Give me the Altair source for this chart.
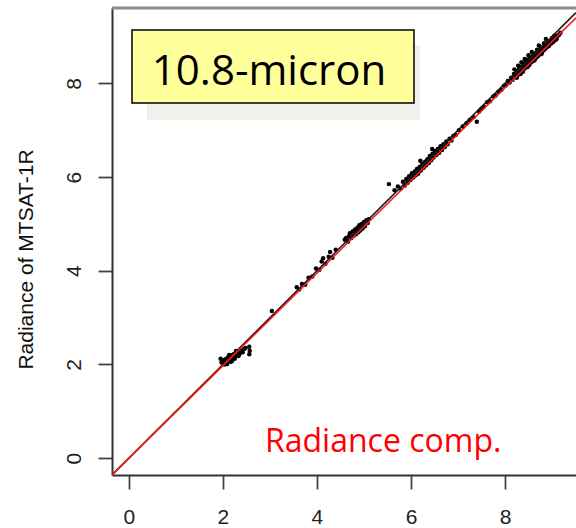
import altair as alt
import pandas as pd

# Scatter values (radiance, reference vs MTSAT-1R)
x_vals = [
    1.97, 2.00, 2.02, 2.04, 2.05, 2.07, 2.08, 2.10, 2.11, 2.12, 2.14, 2.15, 2.17, 2.18, 2.20, 2.21,
    2.23, 2.24, 2.26, 2.27, 2.29, 2.30, 2.32, 2.34, 2.35, 2.37, 2.40, 2.42, 2.45, 2.48, 2.03, 2.09,
    2.16, 2.25, 2.56, 2.57, 2.56, 1.95, 2.13, 2.19, 2.28, 2.33,
    3.04,
    3.57, 3.62, 3.68, 3.75, 3.82, 3.90, 3.98, 4.05, 4.10, 4.13, 4.18, 4.25, 4.28, 4.33, 4.40,
    4.62, 4.66, 4.70, 4.73, 4.76, 4.78, 4.81, 4.83, 4.86, 4.88, 4.90, 4.92, 4.95, 4.97, 5.00, 5.02,
    5.05, 5.08, 5.10, 4.68, 4.85, 4.94, 4.59,
    5.53,
    5.65, 5.72, 5.78, 5.83, 5.87, 5.90, 5.93, 5.96, 5.99, 6.02, 6.05, 6.08, 6.10, 6.13, 6.16, 6.19,
    6.21, 6.24, 6.27, 6.30, 6.32, 6.35, 6.38, 6.40, 6.43, 6.46, 6.48, 6.51, 6.54, 6.57, 6.60, 6.63,
    6.66, 6.69, 6.72, 6.75, 6.78, 6.82, 6.86, 6.90, 6.95, 7.02, 7.10, 7.18, 7.25, 7.33, 7.40, 7.45,
    7.50, 6.20, 6.45, 6.00, 6.25, 6.55, 6.15, 6.35, 6.65,
    7.55, 7.62, 7.68, 7.75, 7.80, 7.86, 7.92, 7.98, 8.02, 8.06, 8.10, 8.13, 8.16, 8.19, 8.22, 8.25,
    8.27, 8.30, 8.32, 8.35, 8.37, 8.40, 8.42, 8.44, 8.46, 8.48, 8.50, 8.52, 8.54, 8.56, 8.58, 8.60,
    8.62, 8.64, 8.66, 8.68, 8.70, 8.72, 8.74, 8.76, 8.78, 8.80, 8.82, 8.84, 8.86, 8.88, 8.90, 8.92,
    8.94, 8.96, 8.98, 9.00, 9.02, 9.04, 9.06, 9.08, 9.10, 9.12, 9.15, 9.18, 8.20, 8.35, 8.50, 8.45,
    8.55, 8.65, 8.75, 8.85, 8.95, 8.30, 8.40, 8.60, 8.70, 8.80, 8.90, 9.00, 9.05,
    8.25, 8.38, 8.52, 8.63, 8.78, 8.92, 8.47, 8.68, 8.83,
    8.28, 8.42, 8.57, 8.72, 8.87, 8.33, 8.48, 8.62, 8.77, 8.93, 9.08,
]
y_vals = [
    2.04, 2.08, 2.02, 2.10, 2.06, 2.12, 2.04, 2.09, 2.15, 2.07, 2.12, 2.18, 2.10, 2.15, 2.20, 2.13,
    2.18, 2.23, 2.16, 2.21, 2.25, 2.19, 2.24, 2.28, 2.22, 2.27, 2.30, 2.26, 2.33, 2.35, 2.00, 2.01,
    2.06, 2.12, 2.38, 2.29, 2.22, 2.12, 2.20, 2.07, 2.29, 2.18,
    3.14,
    3.65, 3.60, 3.72, 3.70, 3.85, 3.88, 4.05, 4.02, 4.20, 4.27, 4.15, 4.30, 4.40, 4.28, 4.45,
    4.70, 4.62, 4.80, 4.70, 4.84, 4.75, 4.88, 4.78, 4.92, 4.82, 4.97, 4.86, 5.00, 4.90, 5.04, 4.95,
    5.08, 5.02, 5.10, 4.74, 4.85, 4.93, 4.66,
    5.85,
    5.72, 5.80, 5.75, 5.90, 5.82, 5.96, 5.88, 6.02, 5.94, 6.08, 5.99, 6.12, 6.04, 6.18, 6.10, 6.22,
    6.14, 6.28, 6.20, 6.33, 6.25, 6.38, 6.30, 6.45, 6.36, 6.50, 6.42, 6.56, 6.47, 6.60, 6.52, 6.66,
    6.58, 6.70, 6.64, 6.76, 6.70, 6.82, 6.78, 6.88, 6.90, 7.00, 7.08, 7.15, 7.22, 7.28, 7.18, 7.40,
    7.46, 6.35, 6.60, 6.00, 6.24, 6.53, 6.07, 6.30, 6.62,
    7.50, 7.60, 7.62, 7.72, 7.74, 7.82, 7.86, 7.95, 7.96, 8.05, 8.02, 8.12, 8.08, 8.20, 8.14, 8.26,
    8.18, 8.32, 8.22, 8.36, 8.27, 8.42, 8.32, 8.46, 8.36, 8.50, 8.40, 8.54, 8.44, 8.56, 8.47, 8.60,
    8.52, 8.64, 8.55, 8.68, 8.58, 8.70, 8.62, 8.74, 8.66, 8.77, 8.70, 8.80, 8.74, 8.84, 8.78, 8.87,
    8.82, 8.90, 8.85, 8.93, 8.88, 8.96, 8.92, 8.99, 8.96, 9.02, 9.04, 9.08, 8.30, 8.45, 8.60, 8.44,
    8.51, 8.61, 8.70, 8.79, 8.88, 8.27, 8.37, 8.56, 8.66, 8.74, 8.85, 8.97, 9.02,
    8.12, 8.25, 8.40, 8.50, 8.64, 8.80, 8.48, 8.72, 8.86,
    8.38, 8.52, 8.67, 8.81, 8.95, 8.20, 8.35, 8.49, 8.63, 8.80, 8.93,
]

# 1:1 line and fitted (regression) line end points
one_x = [-0.36, 9.51]
one_y = [-0.36, 9.51]
fit_x = [-0.36, 9.51]
fit_y = [-0.36, 9.40]

tick_vals = [0, 2, 4, 6, 8]
x_domain = [-0.36, 9.51]
y_domain = [-0.36, 9.61]

pts = pd.DataFrame({"x": x_vals, "y": y_vals})
one_df = pd.DataFrame({"x": one_x, "y": one_y})
fit_df = pd.DataFrame({"x": fit_x, "y": fit_y})
dummy = pd.DataFrame({"a": [0]})

W, H = 464, 467

xs = alt.Scale(domain=x_domain, nice=False, zero=False)
ys = alt.Scale(domain=y_domain, nice=False, zero=False)

xaxis = alt.Axis(values=tick_vals, title=None, grid=False, tickSize=14, tickWidth=1.8,
                 tickColor="#444444", domainColor="#333333", domainWidth=2,
                 labelFont="Liberation Sans", labelFontSize=21, labelColor="#222222",
                 labelPadding=17, labelBaseline="top")
yaxis = alt.Axis(values=tick_vals, title="Radiance of MTSAT-1R", grid=False, tickSize=14,
                 tickWidth=1.8, tickColor="#444444", domainColor="#333333", domainWidth=2,
                 labelFont="Liberation Sans", labelFontSize=21, labelColor="#222222",
                 labelAngle=270, labelAlign="center", labelBaseline="alphabetic",
                 labelPadding=18,
                 titleFont="Liberation Sans", titleFontSize=21, titleFontWeight="normal",
                 titleColor="#111111", titleAngle=270, titleAlign="center",
                 titleBaseline="alphabetic", titleX=-80, titleY=251)

points = alt.Chart(pts).mark_circle(size=20, color="black", opacity=1, clip=True).encode(
    x=alt.X("x:Q", scale=xs, axis=xaxis),
    y=alt.Y("y:Q", scale=ys, axis=yaxis),
)

one_line = alt.Chart(one_df).mark_line(color="#1a1a1a", strokeWidth=1.6, clip=True).encode(
    x=alt.X("x:Q", scale=xs), y=alt.Y("y:Q", scale=ys)
)
fit_line = alt.Chart(fit_df).mark_line(color="#ff1a1a", strokeWidth=1.5, clip=True).encode(
    x=alt.X("x:Q", scale=xs), y=alt.Y("y:Q", scale=ys)
)

top_border = alt.Chart(dummy).mark_rule(color="#8c8c8c", strokeWidth=3).encode(
    x=alt.value(0), x2=alt.value(W), y=alt.value(0)
)

shadow = alt.Chart(dummy).mark_rect(color="#f1f0eb").encode(
    x=alt.value(35), x2=alt.value(308), y=alt.value(37), y2=alt.value(112)
)
box = alt.Chart(dummy).mark_rect(fill="#ffff9c", stroke="black", strokeWidth=1.5).encode(
    x=alt.value(20), x2=alt.value(302), y=alt.value(22), y2=alt.value(95)
)
box_text = alt.Chart(dummy).mark_text(
    text="10.8-micron", font="Open Sans", fontSize=42, color="black",
    align="center", baseline="alphabetic"
).encode(x=alt.value(157), y=alt.value(77))

red_text = alt.Chart(dummy).mark_text(
    text="Radiance comp.", font="Open Sans", fontSize=32, color="#ff0000",
    align="left", baseline="alphabetic"
).encode(x=alt.value(153), y=alt.value(444))

chart = alt.layer(
    shadow, box, box_text, points, one_line, fit_line, top_border, red_text
).properties(
    width=W, height=H,
    autosize=alt.AutoSizeParams(type="none"),
    padding={"left": 112, "top": 8, "right": 0, "bottom": 53},
).configure_view(stroke=None, fill="white").configure(background="white")

chart.save("out.html", embed_options={"renderer": "svg", "actions": False})
